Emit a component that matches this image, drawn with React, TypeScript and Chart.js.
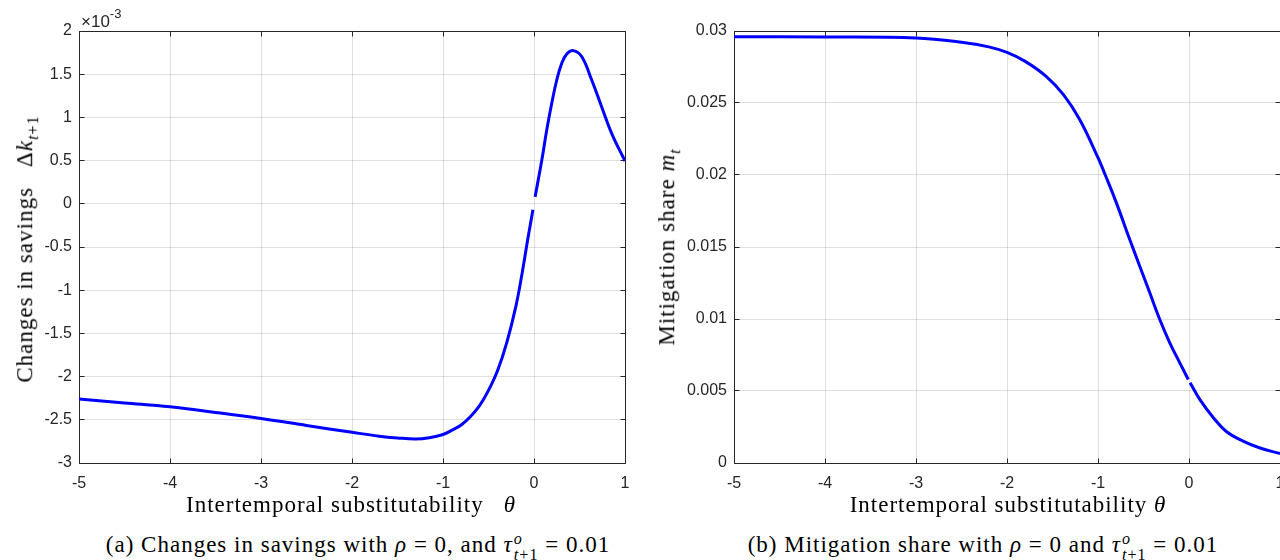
import React, { useEffect, useRef } from 'react';
import { Chart, registerables } from 'chart.js';

Chart.register(...registerables);

// ---------- data ----------
// (a) changes in savings, in units of 1e-3 (null = gap at theta = 0)
const thetaSavings = [
  -5.0, -4.5, -4.0, -3.5, -3.0, -2.5, -2.0, -1.7, -1.5, -1.3, -1.15, -1.0, -0.9, -0.8, -0.7,
  -0.6, -0.5, -0.4, -0.3, -0.2, -0.13, -0.07, -0.012, 0, 0.012, 0.086, 0.14, 0.195, 0.25,
  0.305, 0.36, 0.433, 0.524, 0.634, 0.743, 0.853, 1.0,
];
const savingsE3: (number | null)[] = [
  -2.26, -2.305, -2.35, -2.415, -2.485, -2.565, -2.645, -2.69, -2.71, -2.722, -2.707, -2.67,
  -2.62, -2.56, -2.465, -2.34, -2.16, -1.93, -1.61, -1.19, -0.8, -0.42, -0.07, null, 0.08,
  0.506, 0.854, 1.163, 1.433, 1.627, 1.735, 1.773, 1.704, 1.433, 1.124, 0.816, 0.495,
];

// (b) mitigation share (null = gap at theta = 0)
const thetaMitigation = [
  -5.0, -4.0, -3.0, -2.5, -2.2, -2.0, -1.8, -1.57, -1.38, -1.2, -1.0, -0.92, -0.8, -0.65,
  -0.54, -0.43, -0.32, -0.21, -0.1, -0.008, 0, 0.012, 0.12, 0.27, 0.41, 0.6, 0.78, 1.0,
];
const mitigationShare: (number | null)[] = [
  0.0296, 0.02958, 0.02951, 0.02922, 0.0289, 0.02851, 0.02789, 0.02685, 0.02558, 0.02384,
  0.0212, 0.02, 0.0181, 0.0155, 0.01365, 0.0118, 0.00995, 0.00833, 0.00694, 0.0058, null,
  0.00557, 0.0044, 0.00313, 0.00219, 0.0015, 0.00104, 0.00066,
];

const thetaTicks = [-5, -4, -3, -2, -1, 0, 1];
const thetaTickLabels = ['-5', '-4', '-3', '-2', '-1', '0', '1'];
const savingsTicks = [-3, -2.5, -2, -1.5, -1, -0.5, 0, 0.5, 1, 1.5, 2];
const savingsTickLabels = ['-3', '-2.5', '-2', '-1.5', '-1', '-0.5', '0', '0.5', '1', '1.5', '2'];
const mitigationTicks = [0, 0.005, 0.01, 0.015, 0.02, 0.025, 0.03];
const mitigationTickLabels = ['0', '0.005', '0.01', '0.015', '0.02', '0.025', '0.03'];

// ---------- styles ----------
const AXIS = '#262626';
const GRID = 'rgba(38,38,38,0.15)';
const LINE = '#0000ff';
const SANS = '"Liberation Sans", Arial, sans-serif';
const SERIF = '"Liberation Serif", "Times New Roman", serif';
const TICK_FONT = { family: SANS, size: 16 };

const boxPlugin = {
  id: 'boxTicks',
  beforeDatasetsDraw(chart: any) {
    const { ctx, chartArea: a, scales } = chart;
    const L = Math.floor(a.left) + 0.5;
    const R = Math.floor(a.right) + 0.5;
    const T = Math.floor(a.top) + 0.5;
    const B = Math.floor(a.bottom) + 0.5;
    const tl = 5;
    ctx.save();
    ctx.strokeStyle = AXIS;
    ctx.lineWidth = 1;
    ctx.beginPath();
    ctx.rect(L, T, R - L, B - T);
    scales.x.ticks.forEach((t: any) => {
      const px = Math.floor(scales.x.getPixelForValue(t.value)) + 0.5;
      ctx.moveTo(px, B);
      ctx.lineTo(px, B - tl);
      ctx.moveTo(px, T);
      ctx.lineTo(px, T + tl);
    });
    scales.y.ticks.forEach((t: any) => {
      const py = Math.floor(scales.y.getPixelForValue(t.value)) + 0.5;
      ctx.moveTo(L, py);
      ctx.lineTo(L + tl, py);
      ctx.moveTo(R, py);
      ctx.lineTo(R - tl, py);
    });
    ctx.stroke();
    ctx.restore();
  },
};

const exponentPlugin = {
  id: 'exponentLabel',
  afterDraw(chart: any) {
    const { ctx, chartArea: a } = chart;
    ctx.save();
    ctx.fillStyle = AXIS;
    ctx.textBaseline = 'alphabetic';
    ctx.textAlign = 'left';
    ctx.font = `17px ${SANS}`;
    const base = '\u00d710';
    ctx.fillText(base, a.left + 2, 27);
    const w = ctx.measureText(base).width;
    ctx.font = `13px ${SANS}`;
    ctx.fillText('-3', a.left + 2 + w, 18);
    ctx.restore();
  },
};

type ChartProps = {
  xs: number[];
  ys: (number | null)[];
  yTicks: number[];
  yLabels: string[];
  yWidth: number;
  padRight: number;
  exponent?: boolean;
  left: number;
};

function LineChart({ xs, ys, yTicks, yLabels, yWidth, padRight, exponent, left }: ChartProps) {
  const ref = useRef<HTMLCanvasElement>(null);
  useEffect(() => {
    const data = xs.map((x, i) => ({ x, y: ys[i] }));
    const plugins: any[] = [boxPlugin];
    if (exponent) plugins.push(exponentPlugin);
    const chart = new Chart(ref.current as HTMLCanvasElement, {
      type: 'line',
      data: {
        datasets: [
          {
            data: data as any,
            borderColor: LINE,
            borderWidth: 3,
            pointRadius: 0,
            tension: 0.4,
            spanGaps: false,
            fill: false,
          },
        ],
      },
      options: {
        animation: false,
        responsive: false,
        events: [],
        layout: { padding: { top: 31, right: padRight, left: 0, bottom: 0 } },
        plugins: { legend: { display: false }, tooltip: { enabled: false } },
        scales: {
          x: {
            type: 'linear',
            min: thetaTicks[0],
            max: thetaTicks[thetaTicks.length - 1],
            afterBuildTicks: (s: any) => {
              s.ticks = thetaTicks.map((v) => ({ value: v }));
            },
            ticks: {
              font: TICK_FONT,
              color: AXIS,
              padding: 11,
              maxRotation: 0,
              autoSkip: false,
              callback: (_v: any, i: number) => thetaTickLabels[i],
            },
            grid: { color: GRID, drawTicks: false, lineWidth: 1 },
            border: { display: false },
            afterFit: (s: any) => {
              s.height = 37;
              s.paddingLeft = 0;
              s.paddingRight = 0;
            },
          },
          y: {
            type: 'linear',
            min: yTicks[0],
            max: yTicks[yTicks.length - 1],
            afterBuildTicks: (s: any) => {
              s.ticks = yTicks.map((v) => ({ value: v }));
            },
            ticks: {
              font: TICK_FONT,
              color: AXIS,
              padding: 7,
              autoSkip: false,
              callback: (_v: any, i: number) => yLabels[i],
            },
            grid: { color: GRID, drawTicks: false, lineWidth: 1 },
            border: { display: false },
            afterFit: (s: any) => {
              s.width = yWidth;
              s.paddingTop = 0;
              s.paddingBottom = 0;
            },
          },
        },
      } as any,
      plugins,
    });
    return () => chart.destroy();
  }, []);
  return (
    <canvas
      ref={ref}
      width={640}
      height={500}
      style={{ position: 'absolute', left, top: 0, width: 640, height: 500 }}
    />
  );
}

const textBase: React.CSSProperties = {
  position: 'absolute',
  whiteSpace: 'nowrap',
  fontFamily: SERIF,
  fontSize: 23,
  letterSpacing: '1px',
  color: '#000',
  lineHeight: 1.2,
};

function Label({ x, y, rotate, children }: { x: number; y: number; rotate?: boolean; children: React.ReactNode }) {
  return (
    <div
      style={{
        ...textBase,
        left: x,
        top: y,
        transform: rotate ? 'translate(-50%,-50%) rotate(-90deg)' : 'translate(-50%,-50%)',
      }}
    >
      {children}
    </div>
  );
}

const Sub = ({ children }: { children: React.ReactNode }) => (
  <span style={{ fontSize: '0.7em', verticalAlign: '-0.35em', lineHeight: 0 }}>{children}</span>
);

const Tau = () => (
  <>
    <i>τ</i>
    <span
      style={{
        display: 'inline-flex',
        flexDirection: 'column',
        fontSize: '0.7em',
        lineHeight: 1,
        verticalAlign: '0.5em',
        marginLeft: 1,
      }}
    >
      <i>o</i>
      <span>
        <i>t</i>+1
      </span>
    </span>
  </>
);

const Gap = ({ w }: { w: number }) => <span style={{ display: 'inline-block', width: w }} />;

export default function App() {
  return (
    <div style={{ position: 'absolute', left: 0, top: 0, width: 1280, height: 560, background: '#fff', overflow: 'hidden' }}>
      <LineChart
        xs={thetaSavings}
        ys={savingsE3}
        yTicks={savingsTicks}
        yLabels={savingsTickLabels}
        yWidth={79}
        padRight={15}
        exponent
        left={0}
      />
      <LineChart
        xs={thetaMitigation}
        ys={mitigationShare}
        yTicks={mitigationTicks}
        yLabels={mitigationTickLabels}
        yWidth={94}
        padRight={0}
        left={640}
      />
      <Label x={25} y={249} rotate>
        Changes in savings
        <Gap w={20} />
        Δ<i>k</i>
        <Sub>
          <i>t</i>+1
        </Sub>
      </Label>
      <Label x={667} y={247} rotate>
        Mitigation share <i>m</i>
        <Sub>
          <i>t</i>
        </Sub>
      </Label>
      <Label x={351} y={505}>
        Intertemporal substitutability
        <Gap w={20} />
        <i>θ</i>
      </Label>
      <Label x={1008} y={505}>
        Intertemporal substitutability <i>θ</i>
      </Label>
      <Label x={358} y={547}>
        (a) Changes in savings with <i>ρ</i> = 0, and <Tau /> = 0.01
      </Label>
      <Label x={983} y={547}>
        (b) Mitigation share with <i>ρ</i> = 0 and <Tau /> = 0.01
      </Label>
    </div>
  );
}
